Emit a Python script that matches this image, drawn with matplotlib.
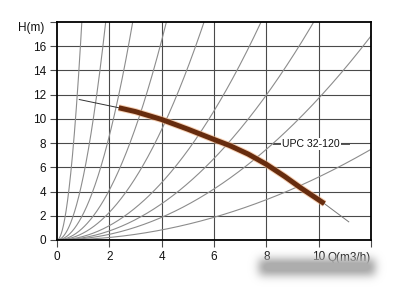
import numpy as np
import matplotlib
matplotlib.use("Agg")
import matplotlib.pyplot as plt

plt.rcParams["font.family"] = ["Liberation Sans", "DejaVu Sans"]

# ---- data ----
x_ticks = [0, 2, 4, 6, 8, 10, 12]
x_tick_labels = ["0", "2", "4", "6", "8", "10", ""]
y_ticks = [0, 2, 4, 6, 8, 10, 12, 14, 16, 18]
y_tick_labels = ["0", "2", "4", "6", "8", "10", "12", "14", "16", ""]

# system curves H = k * Q^2 (coefficients)
system_k = [20.0, 5.2, 2.15, 1.03, 0.57, 0.296, 0.187, 0.117, 0.052]

# pump curve points
pump_Q = [0.85, 2.36, 3.0, 4.0, 5.0, 6.0, 6.6, 7.3, 8.0, 8.7, 9.35, 10.22, 11.15]
pump_H = [11.6, 10.92, 10.6, 9.95, 9.15, 8.3, 7.8, 7.1, 6.25, 5.25, 4.25, 3.0, 1.5]
thick_start, thick_end = 1, 11

label_text = "UPC 32-120"
label_Q, label_H = 8.6, 7.9
leader_Q = [8.27, 11.15]

fig = plt.figure(figsize=(4.0, 2.91), dpi=100)
ax = fig.add_axes([57/400, 1-240/291, (371-57)/400, (240-22)/291])
ax.set_xlim(0, 12)
ax.set_ylim(0, 18)

grid_c = "#4a4a4a"
for x in x_ticks[1:-1]:
    ax.axvline(x, color=grid_c, lw=0.8, zorder=1)
for y in y_ticks[1:-1]:
    ax.axhline(y, color=grid_c, lw=0.8, zorder=1)

for k in system_k:
    qmax = min(12.0, np.sqrt(18.0 / k))
    q = np.linspace(0, qmax, 200)
    ax.plot(q, k * q**2, color="#8c8c8c", lw=0.8, zorder=2)

Q = np.array(pump_Q)
H = np.array(pump_H)
ax.plot(Q[:thick_start+1], H[:thick_start+1], color="#333333", lw=0.7, zorder=3)
ax.plot(Q[thick_end:], H[thick_end:], color="#777777", lw=0.7, zorder=3)
ax.plot(Q[thick_start:thick_end+1], H[thick_start:thick_end+1],
        color="#f0b080", lw=5.0, alpha=0.6, solid_capstyle="butt",
        solid_joinstyle="round", zorder=4)
ax.plot(Q[thick_start:thick_end+1], H[thick_start:thick_end+1],
        color="#672c0e", lw=3.6, solid_capstyle="butt",
        solid_joinstyle="round", zorder=5)

ax.plot(leader_Q, [label_H, label_H], color="#555555", lw=0.7, zorder=2)
ax.text(label_Q, label_H, label_text, ha="left", va="center", fontsize=7.6,
        color="#111111", zorder=6,
        bbox=dict(boxstyle="square,pad=0.08", fc="white", ec="none"))

for s in ax.spines.values():
    s.set_color("black")
    s.set_linewidth(1.3)
ax.set_xticks(x_ticks)
ax.set_xticklabels(x_tick_labels)
ax.set_yticks(y_ticks)
ax.set_yticklabels(y_tick_labels)
ax.tick_params(axis="both", direction="out", length=5, width=0.8,
               color=grid_c, labelsize=8.5, pad=3, labelcolor="#111111")

fig.text(44/400, 1-28/291, "H(m)", ha="right", va="center", fontsize=8.5, color="#111111")
fig.text(328/400, 1-258/291, "Q(m3/h)", ha="left", va="center", fontsize=8.5, color="#111111")

# blurred watermark block
Hpx, Wpx = 291, 400
mask = np.zeros((Hpx, Wpx))
mask[259:275, 259:375] = 1.0
sig = 4.5
r = np.arange(-14, 15)
g = np.exp(-r**2 / (2 * sig**2)); g /= g.sum()
mask = np.apply_along_axis(lambda m: np.convolve(m, g, mode="same"), 1, mask)
mask = np.apply_along_axis(lambda m: np.convolve(m, g, mode="same"), 0, mask)
img = np.zeros((Hpx, Wpx, 4))
img[..., :3] = 0.68
img[..., 3] = np.clip(mask * 1.2, 0, 1)
fig.figimage(img, 0, 0, origin="upper", zorder=10)

fig.savefig("out.png", dpi=100)
